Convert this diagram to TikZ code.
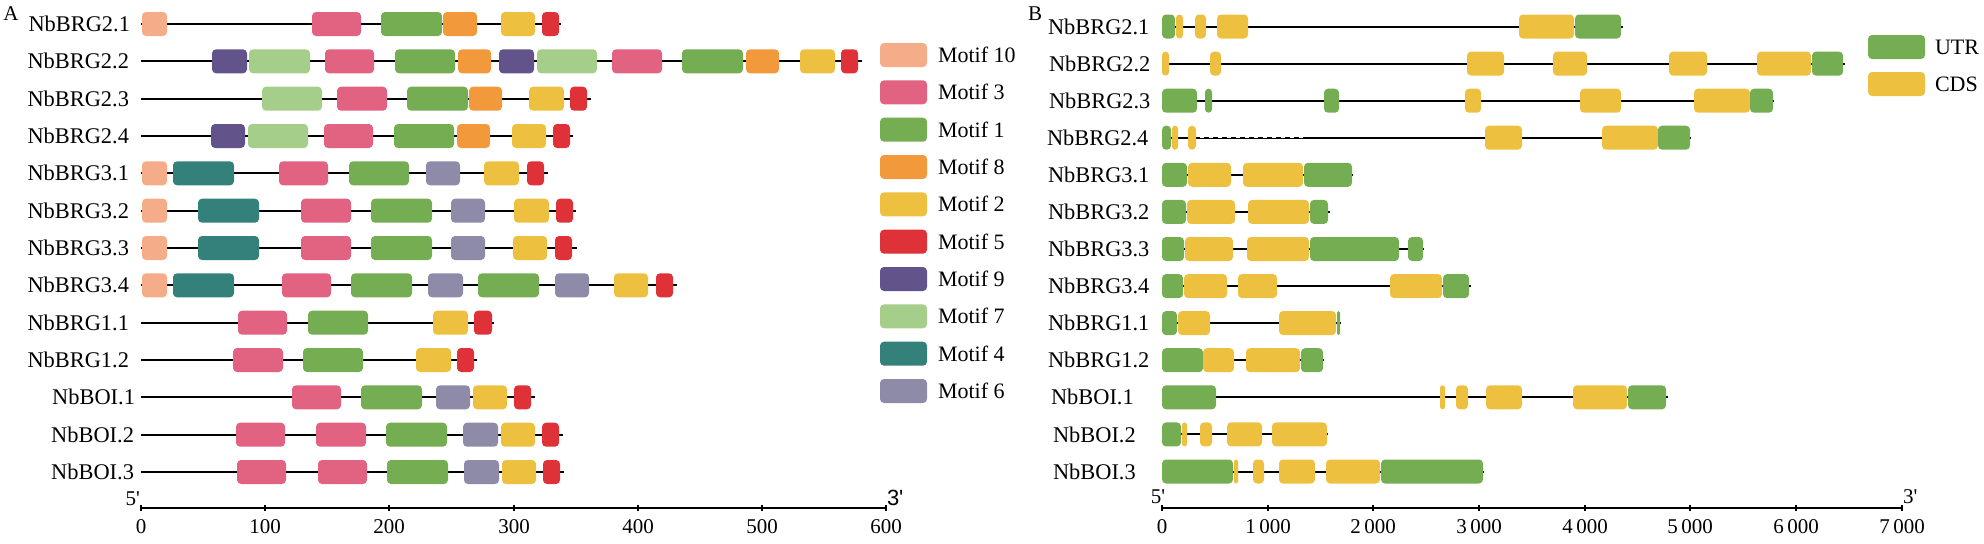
\documentclass[tikz,border=0pt]{standalone}
\usepackage{fontspec}
\setmainfont{Liberation Serif}
\newfontfamily\sansf{Liberation Sans}

\definecolor{mten}{RGB}{245,172,136}
\definecolor{mthree}{RGB}{226,98,129}
\definecolor{mone}{RGB}{117,173,83}
\definecolor{meight}{RGB}{242,153,60}
\definecolor{mtwo}{RGB}{238,192,64}
\definecolor{mfive}{RGB}{222,49,56}
\definecolor{mnine}{RGB}{99,83,139}
\definecolor{mseven}{RGB}{165,206,139}
\definecolor{mfour}{RGB}{52,129,123}
\definecolor{msix}{RGB}{142,139,168}
\definecolor{utr}{RGB}{117,173,83}
\definecolor{cds}{RGB}{238,192,64}

\tikzset{
	gene/.style={font=\fontsize{11.2}{13}\selectfont, inner sep=0pt},
	tick/.style={font=\fontsize{10.5}{12}\selectfont, inner sep=0pt},
	key/.style={font=\fontsize{11}{13}\selectfont, inner sep=0pt, anchor=west},
	axis/.style={line width=1.2pt}
}

\newcommand\motif[3][]{
	\pgfmathsetmacro\mrad{min(4,(#3-#2)/2)*0.5}
	\fill[#1, rounded corners=\mrad pt] (#2,-12) rectangle (#3,12);
	}

\begin{document}
\begin{tikzpicture}[x=0.5pt, y=-0.5pt, line width=1pt]

			\useasboundingbox (0,0) rectangle (1984,543);

			%%%%%%%%%%%%%%%%%%%%%%%%%%%%%%%% A %%%%%%%%%%%%%%%%%%%%%%%%%%%%%%%%
			\node[tick] (labA) at (11,14) {A};

			\begin{scope}[shift={(0,24)}]
				\node[gene, anchor=east] (gA21) at (131,0) {NbBRG2.1};
				\draw (141,0) -- (561,0);
				\motif[mten]{142}{167}
				\motif[mthree]{312}{361}
				\motif[mone]{381}{442}
				\motif[meight]{443}{477}
				\motif[mtwo]{501}{535}
				\motif[mfive]{542}{559}
			\end{scope}

			\begin{scope}[shift={(0,61.3)}]
				\node[gene, anchor=east] (gA22) at (130,0) {NbBRG2.2};
				\draw (141,0) -- (862,0);
				\motif[mnine]{212}{247}
				\motif[mseven]{249}{310}
				\motif[mthree]{325}{374}
				\motif[mone]{395}{455}
				\motif[meight]{458}{491}
				\motif[mnine]{499}{534}
				\motif[mseven]{537}{597}
				\motif[mthree]{612}{662}
				\motif[mone]{682}{743}
				\motif[meight]{746}{779}
				\motif[mtwo]{800}{835}
				\motif[mfive]{841}{858}
			\end{scope}

			\begin{scope}[shift={(0,98.7)}]
				\node[gene, anchor=east] (gA23) at (130,0) {NbBRG2.3};
				\draw (141,0) -- (591,0);
				\motif[mseven]{262}{322}
				\motif[mthree]{337}{387}
				\motif[mone]{407}{468}
				\motif[meight]{469}{502}
				\motif[mtwo]{529}{564}
				\motif[mfive]{570}{587}
			\end{scope}

			\begin{scope}[shift={(0,136)}]
				\node[gene, anchor=east] (gA24) at (130,0) {NbBRG2.4};
				\draw (141,0) -- (573,0);
				\motif[mnine]{211}{245}
				\motif[mseven]{248}{308}
				\motif[mthree]{324}{373}
				\motif[mone]{394}{454}
				\motif[meight]{457}{490}
				\motif[mtwo]{512}{546}
				\motif[mfive]{553}{570}
			\end{scope}

			\begin{scope}[shift={(0,173.3)}]
				\node[gene, anchor=east] (gA31) at (130,0) {NbBRG3.1};
				\draw (141,0) -- (548,0);
				\motif[mten]{142}{167}
				\motif[mfour]{173}{234}
				\motif[mthree]{279}{328}
				\motif[mone]{349}{409}
				\motif[msix]{426}{460}
				\motif[mtwo]{484}{519}
				\motif[mfive]{527}{544}
			\end{scope}

			\begin{scope}[shift={(0,210.7)}]
				\node[gene, anchor=east] (gA32) at (130,0) {NbBRG3.2};
				\draw (141,0) -- (576,0);
				\motif[mten]{142}{167}
				\motif[mfour]{198}{259}
				\motif[mthree]{301}{351}
				\motif[mone]{371}{432}
				\motif[msix]{451}{485}
				\motif[mtwo]{514}{549}
				\motif[mfive]{556}{573}
			\end{scope}

			\begin{scope}[shift={(0,248)}]
				\node[gene, anchor=east] (gA33) at (130,0) {NbBRG3.3};
				\draw (141,0) -- (577,0);
				\motif[mten]{142}{167}
				\motif[mfour]{198}{259}
				\motif[mthree]{301}{351}
				\motif[mone]{371}{432}
				\motif[msix]{451}{485}
				\motif[mtwo]{513}{547}
				\motif[mfive]{555}{572}
			\end{scope}

			\begin{scope}[shift={(0,285.3)}]
				\node[gene, anchor=east] (gA34) at (130,0) {NbBRG3.4};
				\draw (141,0) -- (677,0);
				\motif[mten]{142}{167}
				\motif[mfour]{173}{234}
				\motif[mthree]{282}{331}
				\motif[mone]{351}{412}
				\motif[msix]{428}{463}
				\motif[mone]{478}{539}
				\motif[msix]{555}{589}
				\motif[mtwo]{614}{648}
				\motif[mfive]{656}{673}
			\end{scope}

			\begin{scope}[shift={(0,322.7)}]
				\node[gene, anchor=east] (gA11) at (130,0) {NbBRG1.1};
				\draw (141,0) -- (494,0);
				\motif[mthree]{238}{287}
				\motif[mone]{308}{368}
				\motif[mtwo]{433}{468}
				\motif[mfive]{474}{492}
			\end{scope}

			\begin{scope}[shift={(0,360)}]
				\node[gene, anchor=east] (gA12) at (130,0) {NbBRG1.2};
				\draw (141,0) -- (477,0);
				\motif[mthree]{233}{283}
				\motif[mone]{303}{363}
				\motif[mtwo]{416}{451}
				\motif[mfive]{457}{474}
			\end{scope}

			\begin{scope}[shift={(0,397.3)}]
				\node[gene, anchor=east] (gAB1) at (136,0) {NbBOI.1};
				\draw (141,0) -- (535,0);
				\motif[mthree]{292}{341}
				\motif[mone]{361}{422}
				\motif[msix]{436}{470}
				\motif[mtwo]{473}{507}
				\motif[mfive]{514}{531}
			\end{scope}

			\begin{scope}[shift={(0,434.7)}]
				\node[gene, anchor=east] (gAB2) at (135,0) {NbBOI.2};
				\draw (141,0) -- (563,0);
				\motif[mthree]{236}{285}
				\motif[mthree]{316}{366}
				\motif[mone]{386}{447}
				\motif[msix]{463}{498}
				\motif[mtwo]{501}{535}
				\motif[mfive]{542}{559}
			\end{scope}

			\begin{scope}[shift={(0,472)}]
				\node[gene, anchor=east] (gAB3) at (135,0) {NbBOI.3};
				\draw (141,0) -- (564,0);
				\motif[mthree]{237}{286}
				\motif[mthree]{318}{367}
				\motif[mone]{387}{448}
				\motif[msix]{464}{499}
				\motif[mtwo]{502}{536}
				\motif[mfive]{543}{560}
			\end{scope}

			% axis A
			\draw[axis] (141,508) -- (886,508);
			\draw[axis] (141,505) -- (141,511);
			\draw[axis] (265,505) -- (265,511);
			\draw[axis] (389,505) -- (389,511);
			\draw[axis] (514,505) -- (514,511);
			\draw[axis] (638,505) -- (638,511);
			\draw[axis] (762,505) -- (762,511);
			\draw[axis] (886,505) -- (886,511);
			\node[tick] (tA0) at (141,527) {0};
			\node[tick] (tA1) at (265,527) {100};
			\node[tick] (tA2) at (389,527) {200};
			\node[tick] (tA3) at (514,527) {300};
			\node[tick] (tA4) at (638,527) {400};
			\node[tick] (tA5) at (762,527) {500};
			\node[tick] (tA6) at (886,527) {600};
			\node[tick, anchor=south east] (fiveA) at (141,507) {5\textquotesingle};
			\node[tick, anchor=south west, font=\fontsize{11}{13}\sansf] (threeA) at (886,507) {3\textquotesingle};

			% legend A
			\begin{scope}[shift={(880,55)}]
				\motif[mten]{0}{47}
				\node[key] (k10) at (57,0) {Motif 10};
			\end{scope}
			\begin{scope}[shift={(880,92.3)}]
				\motif[mthree]{0}{47}
				\node[key] (k3) at (57,0) {Motif 3};
			\end{scope}
			\begin{scope}[shift={(880,129.7)}]
				\motif[mone]{0}{47}
				\node[key] (k1) at (57,0) {Motif 1};
			\end{scope}
			\begin{scope}[shift={(880,167)}]
				\motif[meight]{0}{47}
				\node[key] (k8) at (57,0) {Motif 8};
			\end{scope}
			\begin{scope}[shift={(880,204.3)}]
				\motif[mtwo]{0}{47}
				\node[key] (k2) at (57,0) {Motif 2};
			\end{scope}
			\begin{scope}[shift={(880,241.7)}]
				\motif[mfive]{0}{47}
				\node[key] (k5) at (57,0) {Motif 5};
			\end{scope}
			\begin{scope}[shift={(880,279)}]
				\motif[mnine]{0}{47}
				\node[key] (k9) at (57,0) {Motif 9};
			\end{scope}
			\begin{scope}[shift={(880,316.3)}]
				\motif[mseven]{0}{47}
				\node[key] (k7) at (57,0) {Motif 7};
			\end{scope}
			\begin{scope}[shift={(880,353.7)}]
				\motif[mfour]{0}{47}
				\node[key] (k4) at (57,0) {Motif 4};
			\end{scope}
			\begin{scope}[shift={(880,391)}]
				\motif[msix]{0}{47}
				\node[key] (k6) at (57,0) {Motif 6};
			\end{scope}

			%%%%%%%%%%%%%%%%%%%%%%%%%%%%%%%% B %%%%%%%%%%%%%%%%%%%%%%%%%%%%%%%%
			\node[tick] (labB) at (1035,14) {B};

			\begin{scope}[shift={(0,26.5)}]
				\node[gene, anchor=west] (gB21) at (1047,0) {NbBRG2.1};
				\draw (1162,0) -- (1623,0);
				\motif[utr]{1162}{1175}
				\motif[cds]{1176}{1183}
				\motif[cds]{1195}{1206}
				\motif[cds]{1217}{1248}
				\motif[cds]{1519}{1574}
				\motif[utr]{1575}{1621}
			\end{scope}

			\begin{scope}[shift={(0,63.6)}]
				\node[gene, anchor=west] (gB22) at (1048,0) {NbBRG2.2};
				\draw (1162,0) -- (1845,0);
				\motif[cds]{1162}{1169}
				\motif[cds]{1210}{1221}
				\motif[cds]{1467}{1504}
				\motif[cds]{1553}{1587}
				\motif[cds]{1669}{1707}
				\motif[cds]{1757}{1811}
				\motif[utr]{1812}{1843}
			\end{scope}

			\begin{scope}[shift={(0,100.7)}]
				\node[gene, anchor=west] (gB23) at (1048,0) {NbBRG2.3};
				\draw (1162,0) -- (1774,0);
				\motif[utr]{1162}{1197}
				\motif[utr]{1205}{1212}
				\motif[utr]{1324}{1339}
				\motif[cds]{1465}{1481}
				\motif[cds]{1580}{1621}
				\motif[cds]{1694}{1750}
				\motif[utr]{1750}{1773}
			\end{scope}

			\begin{scope}[shift={(0,137.7)}]
				\node[gene, anchor=west] (gB24) at (1046,0) {NbBRG2.4};
				\draw (1162,0) -- (1691,0);
				\draw[white, line width=0.4pt, dash pattern=on 2pt off 2.5pt] (1200,0) -- (1304,0);
				\motif[utr]{1162}{1171}
				\motif[cds]{1172}{1178}
				\motif[cds]{1188}{1196}
				\motif[cds]{1485}{1522}
				\motif[cds]{1602}{1658}
				\motif[utr]{1658}{1690}
			\end{scope}

			\begin{scope}[shift={(0,174.8)}]
				\node[gene, anchor=west] (gB31) at (1047,0) {NbBRG3.1};
				\draw (1162,0) -- (1353,0);
				\motif[utr]{1162}{1187}
				\motif[cds]{1188}{1231}
				\motif[cds]{1243}{1303}
				\motif[utr]{1304}{1352}
			\end{scope}

			\begin{scope}[shift={(0,211.9)}]
				\node[gene, anchor=west] (gB32) at (1047,0) {NbBRG3.2};
				\draw (1162,0) -- (1330,0);
				\motif[utr]{1162}{1186}
				\motif[cds]{1187}{1235}
				\motif[cds]{1248}{1309}
				\motif[utr]{1310}{1328}
			\end{scope}

			\begin{scope}[shift={(0,249)}]
				\node[gene, anchor=west] (gB33) at (1047,0) {NbBRG3.3};
				\draw (1162,0) -- (1424,0);
				\motif[utr]{1162}{1184}
				\motif[cds]{1185}{1233}
				\motif[cds]{1247}{1309}
				\motif[utr]{1310}{1399}
				\motif[utr]{1408}{1423}
			\end{scope}

			\begin{scope}[shift={(0,286.1)}]
				\node[gene, anchor=west] (gB34) at (1047,0) {NbBRG3.4};
				\draw (1162,0) -- (1471,0);
				\motif[utr]{1162}{1183}
				\motif[cds]{1184}{1227}
				\motif[cds]{1238}{1277}
				\motif[cds]{1390}{1442}
				\motif[utr]{1443}{1469}
			\end{scope}

			\begin{scope}[shift={(0,323.1)}]
				\node[gene, anchor=west] (gB11) at (1047,0) {NbBRG1.1};
				\draw (1162,0) -- (1341,0);
				\motif[utr]{1162}{1177}
				\motif[cds]{1178}{1210}
				\motif[cds]{1279}{1336}
				\motif[utr]{1337}{1340}
			\end{scope}

			\begin{scope}[shift={(0,360.2)}]
				\node[gene, anchor=west] (gB12) at (1047,0) {NbBRG1.2};
				\draw (1162,0) -- (1324,0);
				\motif[utr]{1162}{1203}
				\motif[cds]{1203}{1234}
				\motif[cds]{1246}{1300}
				\motif[utr]{1301}{1323}
			\end{scope}

			\begin{scope}[shift={(0,397.3)}]
				\node[gene, anchor=west] (gBB1) at (1050,0) {NbBOI.1};
				\draw (1162,0) -- (1668,0);
				\motif[utr]{1162}{1216}
				\motif[cds]{1440}{1445}
				\motif[cds]{1456}{1468}
				\motif[cds]{1486}{1522}
				\motif[cds]{1573}{1627}
				\motif[utr]{1628}{1666}
			\end{scope}

			\begin{scope}[shift={(0,434.4)}]
				\node[gene, anchor=west] (gBB2) at (1052,0) {NbBOI.2};
				\draw (1162,0) -- (1328,0);
				\motif[utr]{1162}{1181}
				\motif[cds]{1182}{1187}
				\motif[cds]{1200}{1212}
				\motif[cds]{1227}{1262}
				\motif[cds]{1272}{1327}
			\end{scope}

			\begin{scope}[shift={(0,471.5)}]
				\node[gene, anchor=west] (gBB3) at (1052,0) {NbBOI.3};
				\draw (1162,0) -- (1484,0);
				\motif[utr]{1162}{1233}
				\motif[cds]{1234}{1238}
				\motif[cds]{1253}{1264}
				\motif[cds]{1279}{1315}
				\motif[cds]{1326}{1380}
				\motif[utr]{1381}{1483}
			\end{scope}

			% axis B
			\draw[axis] (1162,508) -- (1902,508);
			\draw[axis] (1162,505) -- (1162,511);
			\draw[axis] (1268,505) -- (1268,511);
			\draw[axis] (1373,505) -- (1373,511);
			\draw[axis] (1479,505) -- (1479,511);
			\draw[axis] (1585,505) -- (1585,511);
			\draw[axis] (1690,505) -- (1690,511);
			\draw[axis] (1796,505) -- (1796,511);
			\draw[axis] (1902,505) -- (1902,511);
			\node[tick] (tB0) at (1162,527) {0};
			\node[tick] (tB1) at (1268,527) {1\,000};
			\node[tick] (tB2) at (1373,527) {2\,000};
			\node[tick] (tB3) at (1479,527) {3\,000};
			\node[tick] (tB4) at (1585,527) {4\,000};
			\node[tick] (tB5) at (1690,527) {5\,000};
			\node[tick] (tB6) at (1796,527) {6\,000};
			\node[tick] (tB7) at (1902,527) {7\,000};
			\node[tick, anchor=south] (fiveB) at (1158,505) {5\textquotesingle};
			\node[tick, anchor=south west] (threeB) at (1902,505) {3\textquotesingle};

			% legend B
			\begin{scope}[shift={(1868,47)}]
				\motif[utr]{0}{57}
				\node[key] (kU) at (66,0) {UTR};
			\end{scope}
			\begin{scope}[shift={(1868,84)}]
				\motif[cds]{0}{57}
				\node[key] (kC) at (66,0) {CDS};
			\end{scope}

\end{tikzpicture}
\end{document}
